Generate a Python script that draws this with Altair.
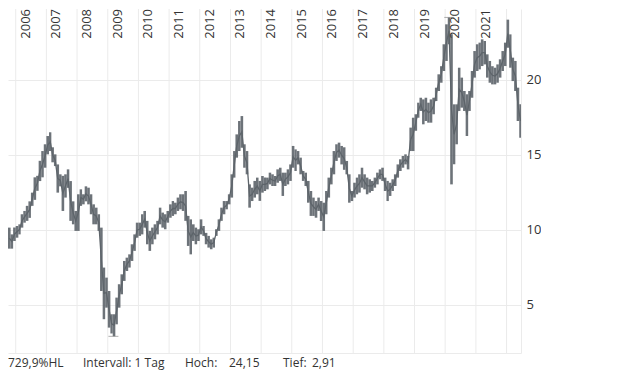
import altair as alt
import pandas as pd

# ---------------- data (monthly high / low) ----------------
start_month = "2005-10-01"

highs = [
    10.15, 9.70, 10.15,                                                        # 2005 Oct-Dec
    10.26, 10.37, 11.04, 11.26, 11.60, 11.90, 12.48, 13.50, 13.60, 14.60, 15.25, 15.70,  # 2006
    16.25, 16.50, 15.50, 15.03, 14.36, 13.70, 13.60, 13.70, 14.03, 13.25, 11.90, 11.26,  # 2007
    12.37, 12.70, 12.37, 12.90, 12.81, 12.37, 11.70, 11.48, 11.04, 10.15, 7.49, 6.82,    # 2008
    5.93, 4.38, 4.38, 5.49, 6.38, 7.04, 7.93, 8.15, 8.37, 9.04, 9.70, 10.48,             # 2009
    10.48, 11.04, 11.26, 10.60, 9.93, 10.15, 10.37, 10.60, 11.48, 11.15, 11.04, 11.26,   # 2010
    11.70, 11.92, 11.81, 12.15, 12.37, 12.37, 12.59, 10.93, 10.70, 10.37, 10.15, 10.04,  # 2011
    10.70, 10.26, 9.80, 9.60, 9.37, 9.48, 10.04, 10.70, 11.48, 11.92, 11.92, 12.37,      # 2012
    13.70, 15.25, 16.36, 17.25, 17.58, 15.70, 15.25, 13.03, 12.81, 13.26, 13.48, 13.26,  # 2013
    13.59, 13.48, 13.48, 13.81, 13.70, 13.59, 14.03, 14.14, 13.81, 13.81, 14.03, 14.36,  # 2014
    15.59, 15.36, 15.25, 14.81, 13.92, 13.81, 13.26, 12.59, 12.15, 11.92, 12.15, 11.92,  # 2015
    11.81, 12.59, 13.48, 14.14, 15.25, 15.70, 15.81, 15.59, 15.50, 14.59, 13.70, 12.59,  # 2016
    13.14, 13.48, 13.70, 14.14, 13.70, 13.48, 13.37, 13.26, 13.48, 13.81, 14.03, 14.14,  # 2017
    13.48, 13.26, 13.14, 13.37, 13.70, 14.36, 14.70, 14.92, 15.03, 14.92, 16.81, 17.47,  # 2018
    17.70, 18.47, 18.80, 18.69, 18.80, 18.47, 18.69, 18.80, 19.47, 20.36, 20.90, 22.36,  # 2019
    23.69, 24.15, 23.03, 18.36, 18.36, 20.80, 20.14, 19.25, 19.03, 19.25, 20.58, 21.91,  # 2020
    22.36, 22.47, 22.69, 22.58, 21.69, 21.25, 20.90, 20.80, 21.02, 21.36, 21.91, 22.47,  # 2021
    24.00, 23.02, 21.47, 21.25, 19.47, 18.36,                                            # 2022 Jan-Jun
]

lows = [
    8.75, 8.75, 9.26,
    9.48, 9.70, 10.15, 10.48, 10.60, 10.80, 11.60, 12.00, 12.60, 13.25, 13.50, 14.14,
    15.03, 15.25, 14.50, 14.25, 12.48, 12.90, 11.26, 12.15, 12.80, 10.60, 10.37, 9.93,
    9.93, 11.60, 11.70, 11.90, 11.70, 11.04, 10.37, 10.37, 9.93, 5.93, 4.05, 4.82,
    3.49, 3.10, 2.91, 3.71, 4.82, 5.71, 6.60, 7.26, 7.49, 7.93, 8.60, 9.48,
    9.60, 9.70, 10.15, 9.04, 8.60, 9.04, 9.37, 9.70, 10.37, 10.15, 10.04, 10.48,
    10.81, 10.93, 11.04, 11.26, 11.37, 11.26, 10.60, 8.93, 8.37, 9.26, 9.04, 9.26,
    9.70, 9.60, 9.04, 8.82, 8.71, 8.82, 9.60, 9.93, 10.60, 11.04, 11.37, 11.70,
    12.15, 13.48, 14.81, 15.25, 15.47, 14.14, 13.70, 11.48, 11.92, 12.15, 12.37, 11.93,
    12.48, 12.59, 12.70, 13.03, 12.92, 12.92, 13.14, 13.26, 12.26, 12.92, 13.03, 13.26,
    14.14, 13.92, 14.36, 13.70, 13.26, 12.92, 11.81, 10.93, 10.93, 10.81, 11.26, 10.59,
    9.93, 11.04, 12.15, 13.03, 13.70, 14.59, 14.81, 14.36, 14.00, 13.70, 11.81, 11.92,
    12.15, 12.37, 12.48, 12.81, 12.70, 12.37, 12.48, 12.59, 12.81, 13.03, 13.37, 13.26,
    12.59, 11.92, 12.26, 12.59, 12.92, 13.48, 13.92, 14.14, 14.36, 14.03, 15.25, 15.25,
    16.60, 17.47, 17.92, 17.03, 17.25, 17.14, 17.14, 17.70, 18.58, 19.25, 19.80, 20.58,
    21.25, 22.36, 13.03, 14.37, 15.70, 17.92, 18.14, 17.92, 16.25, 17.92, 18.80, 20.14,
    20.58, 20.69, 20.91, 21.02, 20.14, 19.80, 19.69, 19.69, 19.80, 20.14, 20.58, 20.91,
    22.13, 20.80, 19.91, 19.25, 17.25, 16.14,
]

grid_years = [str(y) for y in range(2006, 2023)]
label_years = [str(y) for y in range(2006, 2022)]
y_ticks = [5, 10, 15, 20]

high_date, high_value = "2020-02-19", 24.15
low_date, low_value = "2009-03-09", 2.91

footer_texts = ["729,9%HL", "Intervall: 1 Tag", "Hoch:", "24,15", "Tief:", "2,91"]

# ---------------- build tables ----------------
months = pd.date_range(start_month, periods=len(highs), freq="MS")
df = pd.DataFrame({
    "start": months.strftime("%Y-%m-%d"),
    "end": (months + pd.DateOffset(months=1)).strftime("%Y-%m-%d"),
    "mid": (months + pd.Timedelta(days=15)).strftime("%Y-%m-%d"),
    "high": highs,
    "low": lows,
})
grid_df = pd.DataFrame({"date": [y + "-01-01" for y in grid_years]})
label_df = pd.DataFrame({"date": [y + "-01-01" for y in label_years], "label": label_years})
extreme_df = pd.DataFrame({"date": [high_date, low_date], "value": [high_value, low_value]})

# ---------------- scales / axes ----------------
LINE = "#5d646a"
GRID = "#ebebeb"
TEXT = "#333333"
FONT = "Open Sans"

xs = alt.Scale(domain=["2005-10-01", "2022-06-22"])
ys = alt.Scale(domain=[1.8, 24.71], nice=False, zero=False)

xaxis = alt.Axis(orient="bottom", labels=False, ticks=False, grid=False, domain=True,
                 domainColor=GRID, title=None)
yaxis = alt.Axis(orient="right", values=y_ticks, grid=True, gridColor=GRID, domain=True,
                 domainColor=GRID, ticks=False, labelPadding=5, labelFont=FONT,
                 labelFontSize=13, labelColor=TEXT, title=None)

W, H = 513, 344

grid = alt.Chart(grid_df).mark_rule(color=GRID, strokeWidth=1).encode(
    x=alt.X("date:T", scale=xs, axis=xaxis)
)

bars = alt.Chart(df).mark_bar(color=LINE, clip=True, opacity=0.9).encode(
    x=alt.X("start:T", scale=xs, axis=xaxis),
    x2="end:T",
    y=alt.Y("low:Q", scale=ys, axis=yaxis),
    y2="high:Q",
)

connector = alt.Chart(df).transform_calculate(
    midval="(datum.low + datum.high) / 2"
).mark_line(color=LINE, strokeWidth=1.3, clip=True).encode(
    x=alt.X("mid:T", scale=xs, axis=xaxis),
    y=alt.Y("midval:Q", scale=ys, axis=yaxis),
)

extremes = alt.Chart(extreme_df).mark_tick(
    orient="horizontal", size=10, thickness=1, color="#8c8c8c"
).encode(
    x=alt.X("date:T", scale=xs, axis=xaxis),
    y=alt.Y("value:Q", scale=ys, axis=yaxis),
)

year_text = alt.Chart(label_df).mark_text(
    angle=270, align="right", baseline="alphabetic", dy=14,
    font=FONT, fontSize=13, color=TEXT,
).encode(
    x=alt.X("date:T", scale=xs, axis=xaxis),
    y=alt.value(0),
    text="label:N",
)

footer_x = [0, 75, 177, 221, 275, 304]
footer_layers = []
for t, px in zip(footer_texts, footer_x):
    footer_layers.append(
        alt.Chart(pd.DataFrame({"t": [t]})).mark_text(
            align="left", baseline="alphabetic", font=FONT, fontSize=12, color=TEXT,
            x=px, y=358,
        ).encode(text="t:N")
    )

chart = alt.layer(grid, bars, connector, extremes, year_text, *footer_layers).properties(
    width=W, height=H, padding={"left": 0, "top": 0, "right": 0, "bottom": 4}
).configure_view(strokeWidth=0)

chart.save("out.html", embed_options={"renderer": "svg", "actions": False})
